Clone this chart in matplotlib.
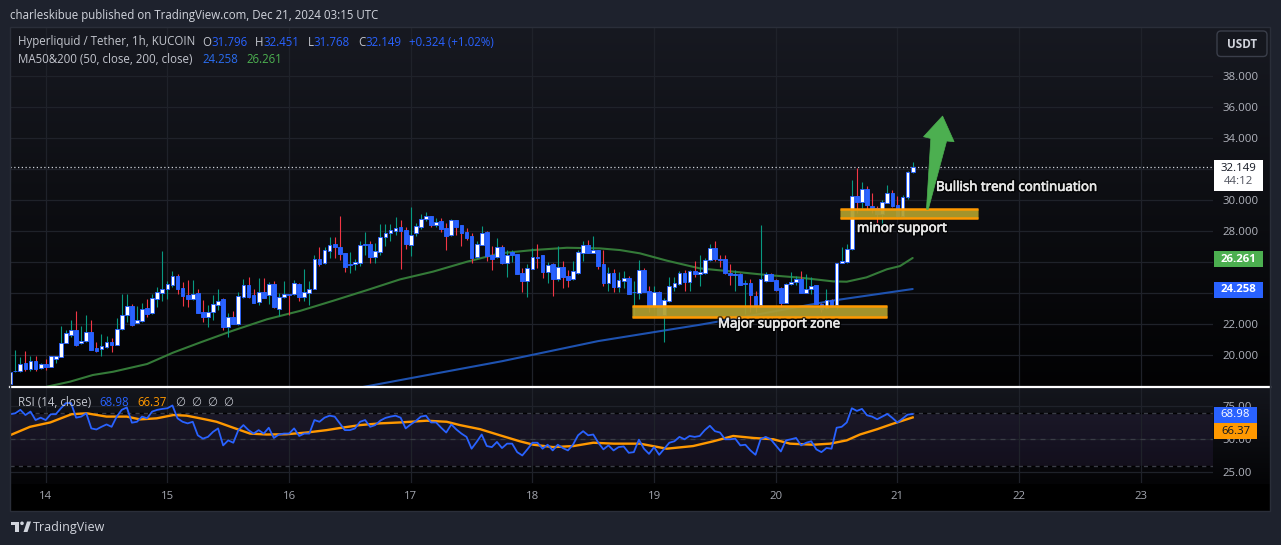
import numpy as np
import pandas as pd
import matplotlib
matplotlib.use("Agg")
import matplotlib.pyplot as plt
from matplotlib.patches import Rectangle, FancyBboxPatch, Polygon, Circle
from matplotlib.lines import Line2D
from matplotlib.transforms import IdentityTransform
import matplotlib.patheffects as pe

# ---------------- data ----------------
start_time = "2024-12-13 17:00"
day_labels = ["14", "15", "16", "17", "18", "19", "20", "21", "22", "23"]

open_ = [
    18.10, 18.99, 18.94, 19.46, 19.12, 19.59, 19.14, 19.42, 19.25, 19.76,
    19.89, 20.80, 21.31, 21.61, 20.75, 20.88, 21.46, 20.43, 20.37, 20.54,
    20.84, 20.67, 21.66, 22.56, 23.16, 22.09, 22.17, 23.03, 22.69, 23.63,
    24.02, 24.24, 24.54, 25.10, 24.32, 23.89, 23.63, 23.98, 22.77, 22.43,
    22.75, 23.20, 23.61, 21.83, 22.43, 22.02, 23.72, 24.49, 23.85, 23.40,
    24.06, 23.85, 24.58, 22.99, 23.72, 23.92, 23.91, 24.58, 23.76, 24.02,
    24.28, 26.17, 25.91, 26.73, 27.16, 26.97, 26.60, 25.84, 25.85, 25.91,
    27.16, 27.16, 26.34, 26.67, 27.63, 27.85, 28.02, 28.24, 28.06, 27.12,
    27.85, 28.28, 28.80, 28.97, 28.37, 28.65, 28.19, 27.76, 28.71, 28.39,
    27.94, 27.68, 26.30, 27.12, 27.94, 26.43, 26.30, 26.99, 25.91, 26.67,
    26.52, 25.27, 24.80, 25.57, 26.32, 26.45, 25.35, 25.87, 24.88, 25.70,
    25.10, 24.92, 25.31, 26.60, 27.08, 26.60, 26.77, 25.87, 24.67, 25.27,
    24.41, 24.80, 24.97, 24.06, 24.02, 25.48, 24.15, 23.16, 24.09, 22.58,
    23.51, 24.41, 24.56, 25.31, 24.73, 25.42, 25.23, 25.27, 26.13, 26.88,
    26.19, 26.17, 25.31, 25.14, 25.23, 24.64, 24.67, 23.81, 23.23, 24.80,
    25.23, 24.84, 24.30, 23.38, 24.56, 24.71, 24.88, 24.02, 24.24, 24.49,
    23.29, 23.01, 23.55, 23.23, 25.91, 26.00, 26.82, 30.26, 29.89, 30.69,
    29.61, 29.46, 29.10, 29.83, 30.43, 29.68, 28.97, 30.17, 31.796]
high = [
    18.95, 20.32, 19.89, 20.26, 19.94, 19.94, 19.51, 19.74, 19.95, 19.95,
    21.87, 21.61, 22.26, 22.84, 21.87, 22.58, 22.26, 20.84, 21.35, 21.25,
    21.10, 22.39, 23.94, 23.94, 23.29, 23.16, 23.38, 23.63, 23.94, 24.37,
    26.71, 24.80, 25.44, 25.23, 24.71, 24.84, 24.84, 24.28, 23.55, 23.20,
    23.85, 24.28, 23.68, 22.69, 22.84, 24.06, 24.88, 25.01, 24.24, 24.97,
    24.97, 24.71, 24.80, 23.98, 24.77, 23.92, 24.84, 24.67, 25.55, 24.77,
    26.45, 26.95, 26.95, 27.61, 27.61, 28.97, 26.60, 26.67, 26.22, 27.33,
    27.94, 27.35, 27.25, 28.45, 28.45, 28.45, 28.88, 28.71, 28.24, 29.57,
    28.49, 29.10, 29.23, 28.97, 28.82, 28.82, 28.54, 28.77, 28.71, 28.39,
    28.19, 27.85, 27.33, 28.32, 27.98, 27.03, 27.55, 27.12, 26.77, 26.77,
    26.52, 25.59, 25.87, 26.88, 27.16, 26.45, 26.00, 25.91, 27.03, 26.04,
    25.48, 26.09, 26.77, 27.33, 27.42, 27.68, 26.77, 26.77, 25.70, 25.53,
    25.35, 25.40, 25.10, 24.77, 26.13, 25.59, 24.45, 24.45, 24.13, 23.66,
    25.01, 25.01, 25.44, 25.48, 25.48, 26.09, 26.45, 26.24, 27.16, 27.38,
    26.45, 26.45, 25.87, 25.48, 25.31, 24.84, 24.88, 24.15, 28.39, 25.38,
    25.27, 24.88, 24.41, 24.62, 25.38, 25.10, 25.44, 25.23, 25.05, 24.54,
    23.33, 24.24, 23.59, 25.96, 26.95, 27.16, 31.29, 32.04, 31.18, 30.90,
    30.43, 29.61, 30.00, 30.97, 30.64, 30.26, 30.32, 31.90, 32.451]
low = [
    18.05, 18.92, 18.92, 18.99, 18.99, 18.99, 19.08, 19.03, 19.20, 19.51,
    19.89, 20.75, 21.14, 20.58, 20.71, 20.86, 20.32, 20.22, 19.94, 20.43,
    20.22, 20.67, 21.61, 22.15, 21.89, 22.04, 22.15, 22.47, 22.65, 23.12,
    23.51, 23.59, 24.37, 23.94, 23.16, 23.12, 23.55, 22.69, 22.15, 21.78,
    22.26, 22.90, 21.61, 21.14, 22.00, 21.94, 23.68, 23.68, 23.33, 23.23,
    23.68, 23.29, 23.01, 22.52, 23.68, 22.58, 23.89, 23.51, 23.51, 23.23,
    24.24, 25.76, 25.87, 26.26, 26.26, 26.13, 25.38, 25.31, 25.48, 25.76,
    26.45, 25.96, 25.96, 26.45, 27.03, 27.38, 27.76, 25.55, 26.84, 26.39,
    27.68, 28.11, 28.67, 28.24, 28.24, 27.96, 26.77, 27.70, 27.74, 27.03,
    27.42, 25.96, 26.24, 27.08, 26.09, 25.48, 26.24, 25.87, 25.05, 26.00,
    25.23, 24.06, 23.76, 25.53, 25.59, 24.97, 24.62, 23.81, 24.80, 24.32,
    24.37, 24.84, 25.23, 26.09, 26.60, 26.56, 25.53, 24.45, 24.15, 24.09,
    24.09, 24.30, 23.94, 22.47, 23.63, 24.06, 22.80, 22.95, 22.58, 20.86,
    23.44, 24.15, 24.52, 24.15, 24.15, 25.05, 24.45, 25.23, 26.09, 26.09,
    25.70, 25.23, 24.52, 24.15, 24.49, 22.65, 22.80, 22.80, 23.08, 24.73,
    24.75, 24.15, 23.08, 23.33, 24.52, 24.52, 24.02, 23.98, 23.94, 23.27,
    22.80, 22.95, 23.08, 22.95, 25.91, 25.96, 26.75, 29.14, 29.46, 29.35,
    29.18, 28.54, 28.32, 29.80, 29.57, 28.82, 28.92, 30.08, 31.768]
close = [
    18.92, 18.94, 19.42, 19.10, 19.59, 19.12, 19.42, 19.25, 19.91, 19.91,
    20.75, 21.40, 21.61, 20.65, 20.88, 21.46, 20.32, 20.28, 20.58, 20.82,
    20.67, 21.66, 22.56, 23.16, 21.94, 22.26, 22.95, 22.65, 23.68, 24.06,
    24.24, 24.58, 25.10, 24.24, 23.83, 23.63, 23.94, 22.73, 22.47, 22.77,
    23.29, 23.46, 21.83, 22.43, 22.02, 23.81, 24.49, 23.76, 23.38, 24.04,
    23.70, 24.58, 23.12, 23.72, 23.91, 23.89, 24.62, 23.76, 24.06, 24.24,
    26.17, 25.89, 26.77, 27.08, 26.95, 26.54, 25.70, 25.79, 26.00, 27.08,
    27.10, 26.34, 26.69, 27.59, 27.85, 28.06, 28.17, 28.02, 27.16, 27.74,
    28.32, 28.80, 28.97, 28.39, 28.60, 28.15, 27.68, 28.71, 28.24, 27.89,
    27.55, 26.26, 27.16, 27.85, 26.39, 26.22, 26.95, 25.91, 26.43, 26.45,
    25.23, 24.80, 25.59, 26.30, 26.28, 25.35, 25.78, 24.88, 25.66, 25.01,
    24.84, 25.40, 26.62, 27.10, 26.60, 26.77, 25.74, 24.67, 25.27, 24.41,
    24.84, 24.97, 23.94, 24.04, 25.48, 24.06, 23.12, 24.09, 22.58, 23.55,
    24.45, 24.62, 25.31, 24.71, 25.42, 25.23, 25.38, 26.13, 26.88, 26.17,
    26.15, 25.27, 25.14, 25.20, 24.54, 24.60, 23.87, 23.16, 24.88, 25.23,
    24.80, 24.19, 23.33, 24.58, 24.71, 24.88, 24.02, 24.24, 24.45, 23.29,
    22.95, 23.55, 23.23, 25.91, 26.04, 26.82, 30.26, 29.89, 30.69, 29.68,
    29.40, 29.10, 29.87, 30.43, 29.61, 28.97, 30.21, 31.825, 32.149]

rsi = [
    68.8, 69.5, 72.1, 68.2, 70.8, 64.4, 66.2, 64.4, 68.8, 68.8,
    73.3, 77.2, 77.2, 66.2, 67.0, 69.5, 58.1, 57.3, 59.3, 61.1,
    59.3, 67.0, 72.1, 73.9, 62.4, 63.1, 67.0, 65.7, 70.8, 72.1,
    72.8, 73.3, 75.4, 65.7, 63.1, 61.9, 63.1, 52.9, 50.4, 51.7,
    55.5, 58.1, 45.3, 49.1, 47.3, 56.8, 60.6, 56.8, 54.2, 56.8,
    54.2, 58.6, 50.9, 53.5, 54.2, 54.2, 58.1, 52.4, 54.2, 54.2,
    64.4, 63.1, 66.2, 67.7, 67.0, 61.9, 56.8, 56.8, 58.1, 63.1,
    64.4, 59.3, 60.6, 64.0, 66.0, 67.0, 67.7, 66.2, 58.1, 61.1,
    63.7, 67.0, 67.7, 62.6, 62.6, 58.6, 55.0, 61.1, 57.3, 54.2,
    51.7, 42.8, 47.9, 53.5, 44.8, 44.0, 47.9, 43.3, 46.6, 46.6,
    40.2, 37.7, 42.3, 47.3, 47.3, 42.8, 45.8, 41.5, 45.8, 43.3,
    41.5, 45.8, 52.9, 56.0, 52.9, 53.5, 47.3, 42.3, 45.3, 41.5,
    44.0, 44.5, 39.7, 40.2, 49.6, 42.8, 38.9, 44.0, 38.2, 42.8,
    47.3, 48.4, 51.7, 49.9, 52.4, 51.7, 52.4, 56.8, 60.1, 56.0,
    55.0, 49.9, 49.9, 50.4, 45.3, 45.8, 41.5, 38.2, 49.9, 51.7,
    49.9, 45.3, 40.7, 49.1, 49.9, 50.9, 45.3, 47.3, 48.4, 42.3,
    40.2, 43.3, 42.8, 58.6, 59.3, 62.6, 73.3, 71.3, 72.8, 68.0,
    67.0, 65.0, 67.0, 69.0, 66.0, 62.5, 65.5, 68.5, 68.98]

# RSI smoothing line read at hours after Dec 14 00:00
rsi_ma_hours = [-6.7, -3.1, 0.9, 5.1, 8.1, 12.0, 16.0, 18.6, 21.9, 25.2,
                27.8, 31.1, 33.7, 37.0, 40.3, 43.6, 47.5, 51.5, 55.4, 58.7,
                62.0, 65.9, 69.9, 75.1, 79.1, 81.7, 85.7, 89.6, 93.5, 96.2,
                100.1, 104.1, 108.0, 112.0, 117.2, 122.5, 127.7, 131.7, 135.6, 139.6,
                143.5, 146.8, 151.4, 154.7, 158.0, 160.6, 164.0, 167.0, 171.0]
rsi_ma = [53.5, 59.3, 62.6, 68.8, 69.5, 67.0, 67.0, 64.9, 65.7, 68.2,
          67.7, 65.2, 63.1, 58.6, 54.2, 53.5, 53.7, 55.0, 56.8, 58.8,
          60.6, 61.9, 62.6, 63.9, 63.1, 60.6, 57.5, 52.9, 48.4, 45.8,
          44.0, 44.8, 47.3, 46.6, 46.6, 42.8, 44.8, 48.4, 52.4, 50.9,
          49.9, 46.6, 45.8, 46.6, 49.1, 53.5, 57.5, 61.5, 66.37]

ma50_hours = [0.3, 4.8, 9.3, 13.3, 20.0, 25.1, 30.4, 36.9, 43.6, 50.2,
              56.7, 63.4, 69.9, 76.4, 83.1, 89.6, 96.1, 102.8, 109.3, 113.3,
              117.2, 122.5, 129.0, 135.6, 142.3, 148.8, 155.3, 158.0, 161.9, 165.9,
              168.5, 171.0]
ma50 = [17.96, 18.28, 18.71, 18.92, 19.42, 20.15, 20.80, 21.57, 22.30, 22.85,
        23.50, 24.19, 24.88, 25.38, 26.02, 26.56, 26.77, 26.92, 26.88, 26.77,
        26.56, 26.09, 25.59, 25.38, 25.16, 24.99, 24.75, 24.73, 25.01, 25.53,
        25.74, 26.261]
ma200_hours = [62.0, 90.0, 109.0, 129.0, 136.0, 155.0, 171.0]
ma200 = [17.9, 19.6, 20.9, 21.95, 22.35, 23.5, 24.258]

last_price = 32.149
countdown = "44:12"
price_ticks = [20, 22, 24, 26, 28, 30, 32, 34, 36, 38]
hidden_price_ticks = [24, 26, 32]   # covered by the value labels on the axis
rsi_ticks = [25, 50, 75]

# drawing-tool anchors (hours after Dec 14 00:00, price)
major_zone = (115.6, 165.9, 22.47, 23.16)
minor_zone = (156.7, 183.8, 28.82, 29.40)
arrow_base = (173.9, 29.40)
arrow_tip = (176.9, 35.42)

# ---------------- figure ----------------
W, H = 1281, 545
fig = plt.figure(figsize=(W / 100, H / 100), dpi=100, facecolor="#1e222d")
FONT = ["Open Sans", "DejaVu Sans"]
plt.rcParams["font.family"] = FONT

def rect_ax(x0, y0, x1, y1):
    return [x0 / W, 1 - y1 / H, (x1 - x0) / W, (y1 - y0) / H]

def fx(x):
    return x / W

def fy(y):
    return 1 - y / H

# background gradient of chart block
bg = fig.add_axes(rect_ax(10, 27, 1270, 511), zorder=0)
bg.axis("off")
rows = []
for yy in range(27, 511):
    if yy < 387:
        f = (yy - 27) / 360
        c0, c1 = np.array([23, 25, 33]), np.array([2, 2, 3])
    elif yy < 484:
        f = (yy - 387) / 97
        c0, c1 = np.array([20, 22, 29]), np.array([4, 4, 6])
    else:
        f = 0
        c0 = c1 = np.array([0, 0, 0])
    rows.append(c0 + (c1 - c0) * f)
grad = np.array(rows)[:, None, :] / 255.0
bg.imshow(grad, aspect="auto", extent=[0, 1, 0, 1], interpolation="bilinear")
bg.set_xlim(0, 1); bg.set_ylim(0, 1)

PXH = 5.07  # pixels per hour
x_left, x_right = 10, 1213
x0h = (x_left - 45.7) / PXH
x1h = (x_right - 45.7) / PXH

ax = fig.add_axes(rect_ax(10, 28, 1213, 386), zorder=2)
ax.set_facecolor("none")
ax.set_xlim(x0h, x1h)
ax.set_ylim(18.0, 41.1)
axr = fig.add_axes(rect_ax(10, 388, 1213, 483), zorder=2)
axr.set_facecolor("none")
axr.set_xlim(x0h, x1h)
axr.set_ylim(16.93, 88.57)

for a in (ax, axr):
    for s in a.spines.values():
        s.set_visible(False)

day_hours = [24 * i for i in range(len(day_labels))]
GRID = "#1f222a"
TXT = "#b2b5be"

ax.set_xticks(day_hours)
ax.tick_params(axis="x", length=0, labelbottom=False)
ax.yaxis.tick_right()
ax.set_yticks(price_ticks)
ax.set_yticklabels(["" if v in hidden_price_ticks else f"{v:.3f}" for v in price_ticks])
ax.tick_params(axis="y", length=0, pad=7, labelcolor=TXT, labelsize=8.2)
ax.grid(True, color=GRID, lw=0.9, zorder=0)

axr.set_xticks(day_hours)
axr.set_xticklabels(day_labels)
axr.tick_params(axis="x", length=0, pad=6, labelcolor="#a3a6af", labelsize=8.2)
axr.yaxis.tick_right()
axr.set_yticks(rsi_ticks)
axr.set_yticklabels([f"{v:.2f}" for v in rsi_ticks])
axr.tick_params(axis="y", length=0, pad=7, labelcolor=TXT, labelsize=8.2)
axr.grid(True, color=GRID, lw=0.9, zorder=0)

# ---------------- candles ----------------
t = pd.date_range(start_time, periods=len(close), freq="h")
hrs = np.asarray((t - pd.Timestamp("2024-12-14")).total_seconds() / 3600.0)
O = np.array(open_); Hh = np.array(high); L = np.array(low); C = np.array(close)
prevC = np.concatenate([[O[0]], C[:-1]])
wick_col = np.where(C >= prevC, "#089981", "#f23645")
BLUE = "#2962ff"
ax.vlines(hrs, L, Hh, colors=wick_col, linewidth=0.8, zorder=3)
body_bot = np.minimum(O, C)
body_h = np.maximum(np.abs(C - O), 0.03)
face = np.where(C >= O, "#ffffff", BLUE)
ax.bar(hrs, body_h, bottom=body_bot, width=0.74, color=face,
       edgecolor=BLUE, linewidth=0.65, zorder=4)

# moving averages
ax.plot(ma50_hours, ma50, color="#347a38", lw=1.5, zorder=2.5, solid_capstyle="round")
ax.plot(ma200_hours, ma200, color="#1e52b0", lw=1.5, zorder=2.5, solid_capstyle="round")

# last price dotted line
ax.axhline(last_price, color="#d1d4dc", lw=0.9, ls=(0, (1, 2)), zorder=3)

# zones: olive fill, orange top/bottom edges
for (h0, h1, p0, p1) in (major_zone, minor_zone):
    ax.add_patch(Rectangle((h0, p0), h1 - h0, p1 - p0, facecolor="#b09f2e",
                           edgecolor="#6e5a14", lw=0.6, alpha=0.93, zorder=5))
    ax.hlines([p0, p1], h0, h1, colors="#ff9800", lw=1.8, zorder=5.2)

TCOL = "#e6e6e6"
stroke = [pe.Stroke(linewidth=2.6, foreground="#000000", alpha=0.7),
          pe.Stroke(linewidth=0.5, foreground=TCOL), pe.Normal()]
ax.text(132.6, 22.0, "Major support zone", color=TCOL, fontsize=9.6,
        ha="left", va="center", zorder=7, path_effects=stroke)
ax.text(160.0, 28.17, "minor support", color=TCOL, fontsize=9.6,
        ha="left", va="center", zorder=7, path_effects=stroke)
ax.text(175.6, 30.82, "Bullish trend continuation", color=TCOL, fontsize=9.6,
        ha="left", va="center", zorder=7, path_effects=stroke)

# arrow (built in display pixels from the two anchors)
fig.canvas.draw()
b = ax.transData.transform(arrow_base)
tp = ax.transData.transform(arrow_tip)
d = tp - b
u = d / np.hypot(*d)
n = np.array([-u[1], u[0]])
hb = tp - u * 24
pts = [b - n * 0.9, hb - n * 8.0, hb - n * 15.5 + u * 0.5, tp,
       hb + n * 15.5 + u * 0.5, hb + n * 8.0, b + n * 0.9]
fig.add_artist(Polygon(pts, closed=True, facecolor="#4caf50", edgecolor="#4caf50",
                       lw=0.5, transform=IdentityTransform(), zorder=8))

# ---------------- RSI pane ----------------
axr.axhspan(30, 70, color="#7e57c2", alpha=0.10, lw=0, zorder=1)
for lv in (70, 30):
    axr.axhline(lv, color="#000000", lw=1.0, zorder=1.5)
    axr.axhline(lv, color="#3a3d46", lw=1.0, ls=(0, (3, 3)), zorder=1.6)
axr.axhline(50, color="#3a3d46", lw=0.9, ls=(0, (4, 4)), zorder=1.6)
axr.plot(rsi_ma_hours, rsi_ma, color="#ff9800", lw=1.7, zorder=3)
axr.plot(hrs, rsi, color="#2962ff", lw=1.3, zorder=3.5)

# ---------------- overlays ----------------
fig.add_artist(Line2D([fx(10), fx(1270)], [fy(386.8), fy(386.8)], color="#ffffff", lw=1.6, zorder=9))
fig.add_artist(Rectangle((fx(10), fy(511)), fx(1260), (511 - 27) / H, fill=False,
                         edgecolor="#2a2e39", lw=1.0, zorder=9))

def box(x0, y0, x1, y1, col):
    fig.add_artist(Rectangle((fx(x0), fy(y1)), (x1 - x0) / W, (y1 - y0) / H,
                             facecolor=col, edgecolor=col, lw=0, zorder=10))

def ftext(x, y, s, col, size=8.2, ha="center", weight="normal"):
    return fig.text(fx(x), fy(y), s, color=col, fontsize=size, ha=ha, va="center",
                    fontweight=weight, zorder=11)

box(1214, 250.7, 1262.7, 267.3, "#4caf50")
ftext(1238.5, 259, f"{ma50[-1]:.3f}", "#ffffff", weight="bold")
box(1214, 281.7, 1262.7, 298.3, "#2962ff")
ftext(1238.5, 290, f"{ma200[-1]:.3f}", "#ffffff", weight="bold")
box(1214, 160, 1262.7, 190.7, "#ffffff")
ftext(1238.5, 168.5, f"{last_price:.3f}", "#131722")
ftext(1238.5, 182, countdown, "#50535e")
box(1214, 406.7, 1256.7, 422.7, "#2962ff")
ftext(1235.5, 414.7, f"{rsi[-1]:.2f}", "#ffffff")
box(1214, 422.7, 1256.7, 439.3, "#ff9800")
ftext(1235.5, 431, f"{rsi_ma[-1]:.2f}", "#131722")

# USDT button
fig.add_artist(FancyBboxPatch((1217, H - 56.5), 50, 25.5, boxstyle="round,pad=0,rounding_size=4",
                              facecolor="#15171e", edgecolor="#3a3e4a", lw=1.0,
                              transform=IdentityTransform(), zorder=10))
ftext(1242, 44, "USDT", "#d1d4dc", size=8.4, weight="bold")

# header and legends
ftext(10, 15, "charleskibue published on TradingView.com, Dec 21, 2024 03:15 UTC",
      "#d1d4dc", size=8.3, ha="left")

R = fig.canvas.get_renderer()

def seq_text(x, y, parts, size=8.3):
    for s, col, gap in parts:
        tt = fig.text(fx(x), fy(y), s, color=col, fontsize=size, ha="left", va="center",
                      zorder=11, family=FONT)
        x += tt.get_window_extent(R).width + gap

GR = "#c3c6ce"
VB = "#2962ff"
chg = close[-1] - close[-2]
seq_text(18, 42, [("Hyperliquid / Tether, 1h, KUCOIN", GR, 7),
                  ("O", GR, 0), (f"{open_[-1]:.3f}", VB, 8),
                  ("H", GR, 0), (f"{high[-1]:.3f}", VB, 8),
                  ("L", GR, 0), (f"{low[-1]:.3f}", VB, 8),
                  ("C", GR, 0), (f"{close[-1]:.3f}", VB, 8),
                  (f"+{chg:.3f} (+{chg / close[-2] * 100:.2f}%)", VB, 0)])
seq_text(18, 59, [("MA50&200 (50, close, 200, close)", GR, 10),
                  (f"{ma200[-1]:.3f}", "#2a6df0", 8),
                  (f"{ma50[-1]:.3f}", "#4caf50", 0)])
seq_text(18, 403, [("RSI (14, close)", GR, 8),
                   (f"{rsi[-1]:.2f}", VB, 8),
                   (f"{rsi_ma[-1]:.2f}", "#ff9800", 9),
                   ("\u2205", GR, 6), ("\u2205", GR, 6), ("\u2205", GR, 6), ("\u2205", GR, 0)])

# TradingView logo
lc = "#d1d4dc"
fig.add_artist(Rectangle((11, H - 525), 8, 3.5, facecolor=lc, lw=0, transform=IdentityTransform(), zorder=10))
fig.add_artist(Rectangle((15, H - 532), 4, 10, facecolor=lc, lw=0, transform=IdentityTransform(), zorder=10))
fig.add_artist(Circle((22, H - 523.3), 1.8, facecolor=lc, lw=0, transform=IdentityTransform(), zorder=10))
fig.add_artist(Polygon([(23.5, H - 532), (27.5, H - 532), (31, H - 521.5), (27, H - 521.5)],
                       facecolor=lc, lw=0, transform=IdentityTransform(), zorder=10))
ftext(33, 527, "TradingView", lc, size=9.0, ha="left")

fig.savefig("out.png", dpi=100, facecolor=fig.get_facecolor())
